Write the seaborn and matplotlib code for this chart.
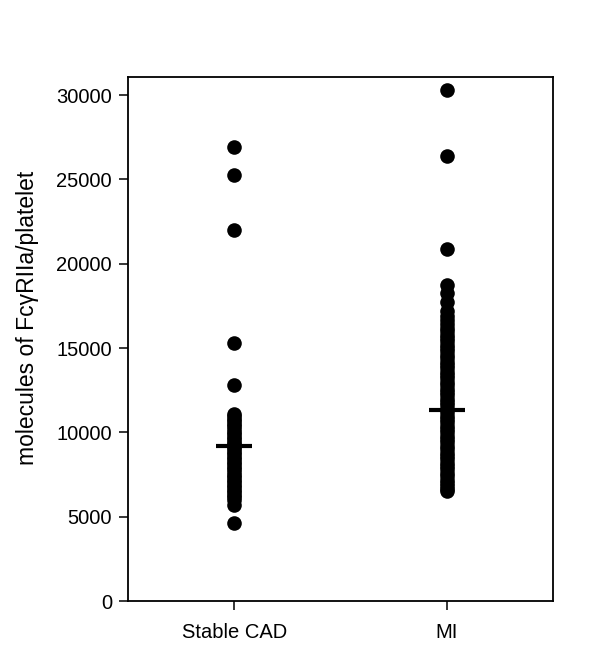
import numpy as np
import pandas as pd
import matplotlib
matplotlib.use("Agg")
import matplotlib.pyplot as plt
import seaborn as sns

# values
groups = ["Stable CAD", "MI"]
stable_cad = [26900, 25250, 22000, 15300, 12800, 11100, 10950, 10800, 10650,
              10500, 10350, 10200, 10050, 9900, 9750, 9600, 9450, 9300, 9150,
              9000, 8850, 8700, 8550, 8400, 8250, 8100, 7950, 7800, 7650,
              7500, 7350, 7200, 7050, 6900, 6750, 6600, 6450, 6300, 6150,
              6000, 5700, 4600]
mi = [30300, 26400, 20850, 18750, 18250, 17750, 17200, 16900, 16650, 16400,
      16200, 16000, 15800, 15600, 15400, 15200, 15000, 14800, 14600, 14400,
      14200, 14000, 13800, 13600, 13400, 13200, 13000, 12800, 12600, 12400,
      12200, 12000, 11800, 11600, 11400, 11200, 11000, 10800, 10600, 10400,
      10200, 10000, 9800, 9600, 9400, 9200, 9000, 8800, 8600, 8400, 8200,
      8000, 7800, 7600, 7400, 7200, 7000, 6800, 6650, 6500]
centre_line = [9200, 11330]
y_ticks = [0, 5000, 10000, 15000, 20000, 25000, 30000]

df = pd.DataFrame({
    "group": ["Stable CAD"] * len(stable_cad) + ["MI"] * len(mi),
    "value": stable_cad + mi,
})

sns.set_style("white")
plt.rcParams['font.family'] = ['Liberation Sans', 'DejaVu Sans']

fig = plt.figure(figsize=(5.94, 6.65), dpi=100)
ax = fig.add_axes([0.2155, 0.0962, 0.7155, 0.788])

sns.stripplot(data=df, x="group", y="value", order=groups, jitter=False,
              color="black", size=10.5, linewidth=0, ax=ax)

# centre bars
for i, v in enumerate(centre_line):
    ax.hlines(v, i - 0.085, i + 0.085, colors="black", linewidth=3)

ax.set_xlim(-0.5, 1.5)
ax.set_ylim(0, 31070)
ax.set_yticks(y_ticks)
ax.set_yticklabels([str(t) for t in y_ticks])
ax.set_xlabel("")
ax.set_ylabel("molecules of Fc\u03b3RIIa/platelet", fontsize=16.5, color="black")
ax.yaxis.set_label_coords(-0.21, 0.54)

for s in ax.spines.values():
    s.set_visible(True)
    s.set_color("black")
    s.set_linewidth(1.3)

ax.tick_params(axis="both", which="both", direction="out", length=6.5,
               width=1.1, color="black", labelsize=14.5, labelcolor="black",
               left=True, bottom=True, top=False, right=False)
ax.tick_params(axis="y", pad=5)
ax.tick_params(axis="x", pad=9)

fig.savefig("out.png", dpi=100)
